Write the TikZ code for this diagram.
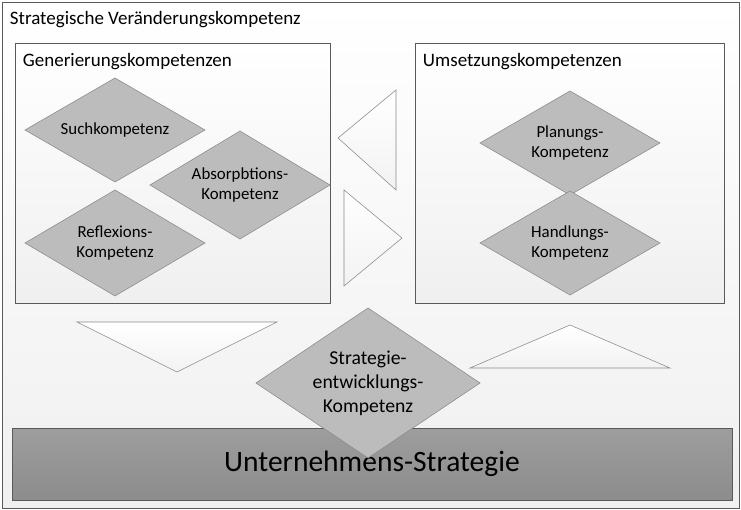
\documentclass[tikz,border=0pt]{standalone}
\usepackage{fontspec}
\setmainfont{Carlito}
\usetikzlibrary{shapes.geometric}
\begin{document}
\begin{tikzpicture}[x=0.025cm, y=-0.025cm]
  \definecolor{frameLine}{RGB}{90,90,90}
  \definecolor{rhombFill}{RGB}{188,188,188}
  \definecolor{barFill}{RGB}{140,140,140}
  \tikzset{
    box/.style={draw=frameLine, top color=white, bottom color=gray!12},
    rhomb/.style={draw=frameLine!70, fill=rhombFill},
    label/.style={align=center, font=\fontsize{12}{14.5}\selectfont},
    heading/.style={anchor=west, font=\fontsize{13.5}{16}\selectfont},
    wedge/.style={draw=frameLine!70, top color=white, bottom color=gray!10}
  }
  \useasboundingbox (0,0) rectangle (741,510);
  \draw[box] (2,2) rectangle (739,508);
  \node[heading] (title) at (5,20) {Strategische Veränderungskompetenz};
  % Generierung
  \draw[box] (15,43) rectangle (330,303);
  \node[heading] (gen) at (18,62) {Generierungskompetenzen};
  \draw[rhomb] (25,130) -- (115,78) -- (205,130) -- (115,182) -- cycle;
  \node[label] (such) at (115,130) {Suchkompetenz};
  \draw[rhomb] (150,185) -- (240,131) -- (330,185) -- (240,239) -- cycle;
  \node[label] (abs) at (240,185) {Absorpbtions-\\Kompetenz};
  \draw[rhomb] (25,243) -- (115,190) -- (205,243) -- (115,296) -- cycle;
  \node[label] (refl) at (115,243) {Reflexions-\\Kompetenz};
  % Umsetzung
  \draw[box] (415,43) rectangle (724,303);
  \node[heading] (ums) at (418,62) {Umsetzungskompetenzen};
  \draw[rhomb] (480,143) -- (570,91) -- (660,143) -- (570,195) -- cycle;
  \node[label] (plan) at (570,143) {Planungs-\\Kompetenz};
  \draw[rhomb] (480,243) -- (570,191) -- (660,243) -- (570,295) -- cycle;
  \node[label] (hand) at (570,243) {Handlungs-\\Kompetenz};
  % wedges
  \draw[wedge] (338,138) -- (396,90) -- (396,190) -- cycle;
  \draw[wedge] (344,190) -- (402,238) -- (344,286) -- cycle;
  \draw[wedge] (77,322) -- (277,322) -- (177,372) -- cycle;
  \draw[wedge] (470,368) -- (670,368) -- (570,325) -- cycle;
  % bar
  \draw[frameLine, top color=barFill!85, bottom color=barFill] (12,428) rectangle (732,500);
  \node[font=\fontsize{21}{24}\selectfont] (strat) at (372,464) {Unternehmens-Strategie};
  \draw[rhomb] (256,383) -- (368,308) -- (480,383) -- (368,458) -- cycle;
  \node[label, font=\fontsize{14}{17}\selectfont] (entw) at (368,383) {Strategie-\\entwicklungs-\\Kompetenz};
\end{tikzpicture}
\end{document}
